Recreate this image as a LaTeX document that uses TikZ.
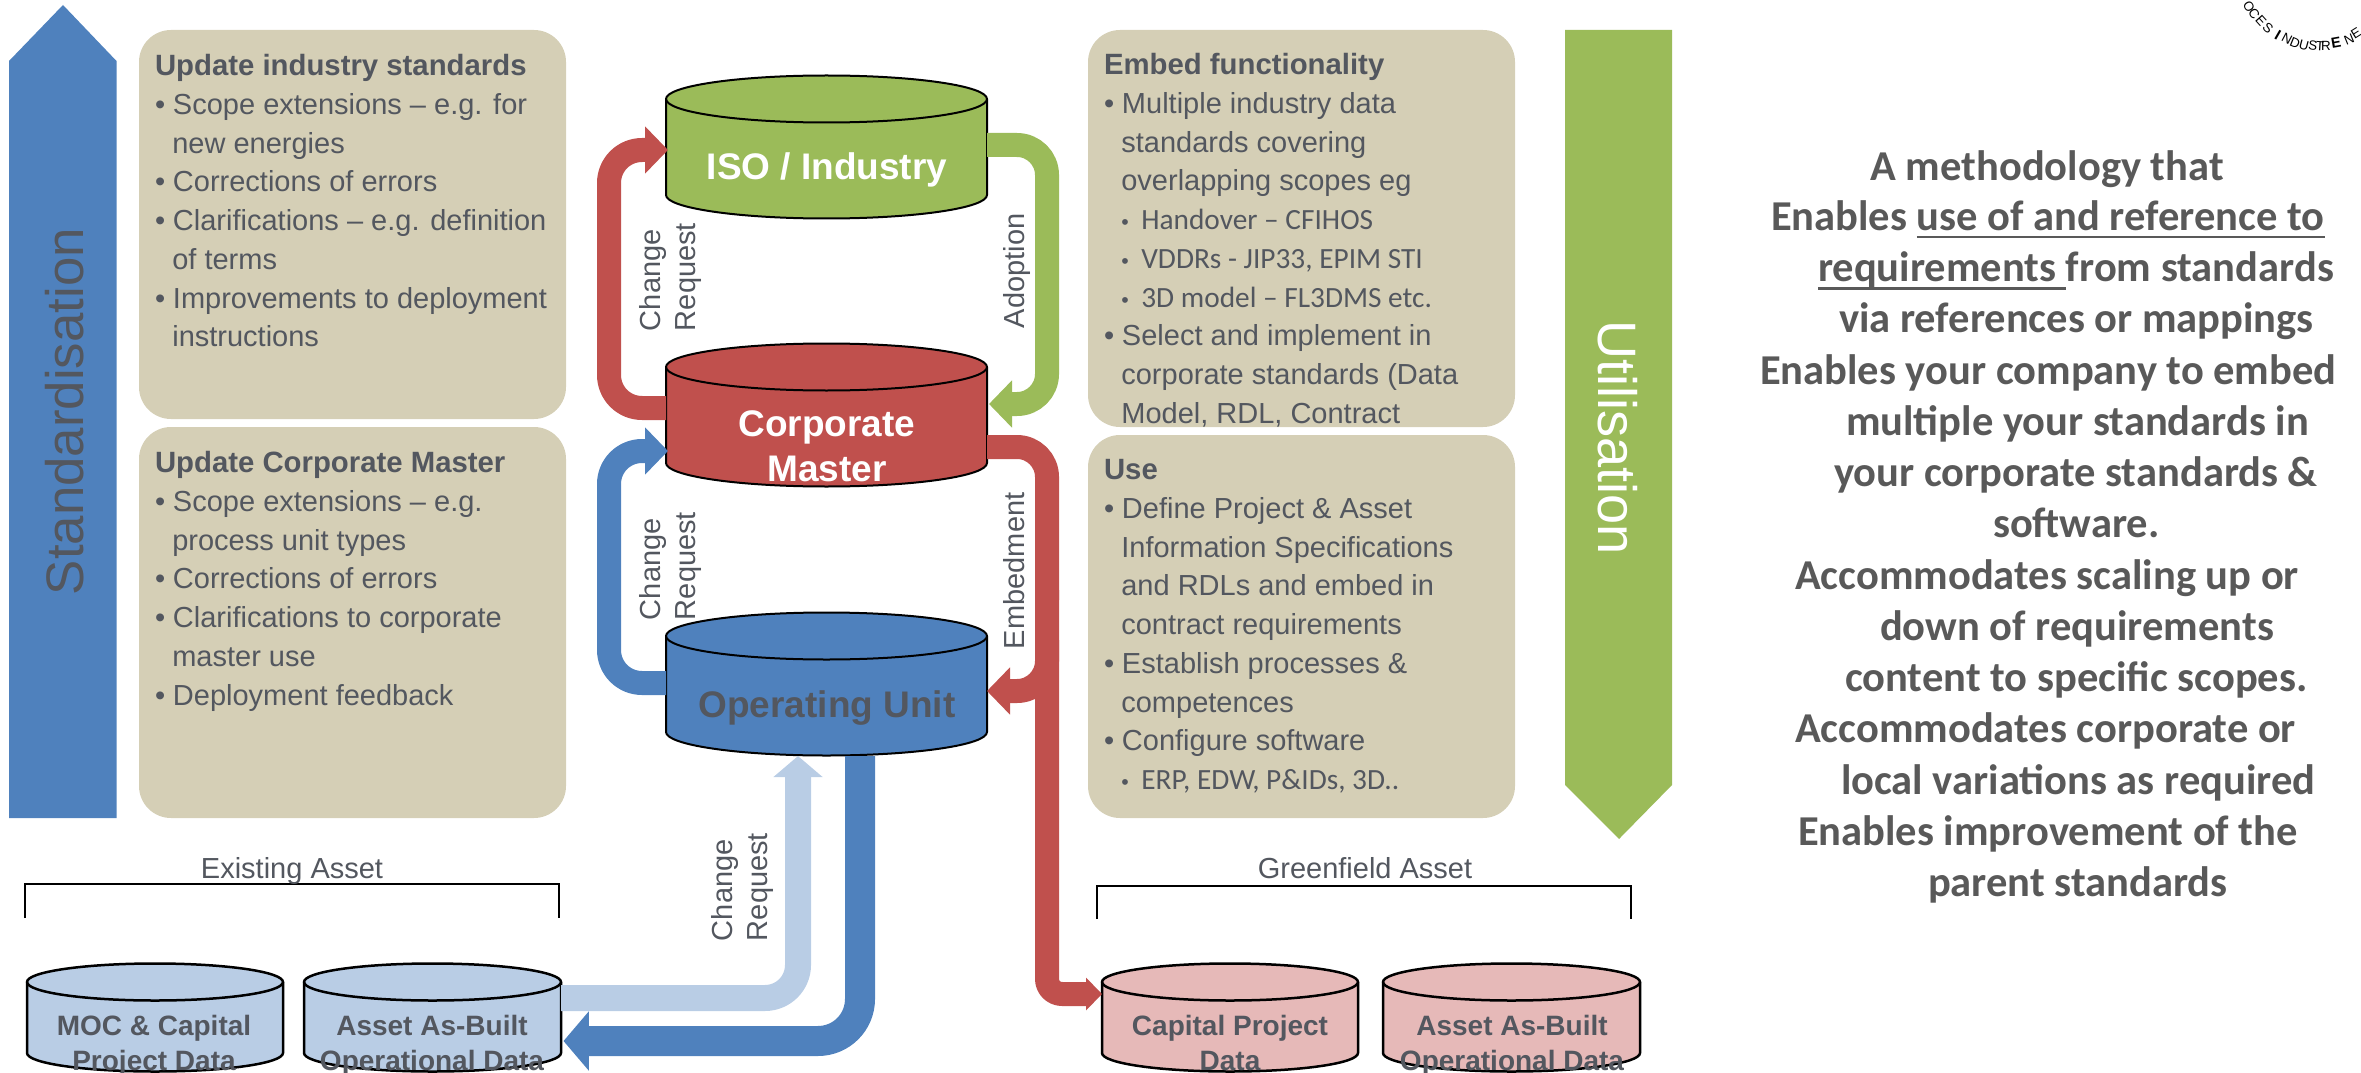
\documentclass[tikz,border=0pt]{standalone}
\usepackage{fontspec}
\setmainfont{Liberation Sans}
\newfontfamily\carl{Carlito}
\usetikzlibrary{arrows.meta}
\definecolor{cblue}{HTML}{4F81BD}
\definecolor{cred}{HTML}{C0504D}
\definecolor{cgreen}{HTML}{9BBB59}
\definecolor{clblue}{HTML}{B9CDE5}
\definecolor{clred}{HTML}{E6B9B8}
\definecolor{cbox}{HTML}{D5CFB6}
\definecolor{ctxt}{HTML}{53575F}
\definecolor{crtxt}{HTML}{595959}
\newcommand{\fsbody}{\fontsize{21.75}{29.03}\selectfont}
\newcommand{\fssub}{\carl\fontsize{22}{29.03}\selectfont}
\newcommand{\firststrut}{\rule{0pt}{20pt}}
\newcommand{\Hd}[1]{\firststrut\fontsize{22}{29.03}\selectfont\textbf{#1}}
\newcommand{\Bu}[1]{\makebox[13.5pt][l]{•}#1}
\newcommand{\Co}[1]{\hspace*{13pt}#1}
\newcommand{\Su}[1]{\hspace*{13pt}\makebox[15pt][l]{\fontsize{16}{29.03}\selectfont •}{\fssub #1}}
\newcommand{\myul}[1]{\setbox0=\hbox{#1}\rlap{\rule[-6pt]{\wd0}{1.6pt}}\box0 }
\newcommand{\drum}[8]{% name, cx, rx, ymid, yend, ry, fill, line width (px)
  \pgfmathsetmacro\drumrx{#3*0.75}
  \pgfmathsetmacro\drumry{#6*0.75}
  \pgfmathsetmacro\drumh{(#5-#4)*0.75}
  \pgfmathsetmacro\drumw{#3*1.5}
  \pgfmathsetmacro\drumlw{#8*0.75}
  \filldraw[fill=#7,draw=black,line width=\drumlw pt,line join=round]
    ({#2-#3},#4) arc[start angle=180,end angle=0,x radius=\drumrx pt,y radius=\drumry pt]
    -- ({#2+#3},#5) arc[start angle=0,end angle=-180,x radius=\drumrx pt,y radius=\drumry pt] -- cycle;
  \draw[line width=\drumlw pt]
    ({#2-#3},#4) arc[start angle=180,end angle=360,x radius=\drumrx pt,y radius=\drumry pt];
  \node[inner sep=0pt,outer sep=0pt,minimum width=\drumw pt,minimum height=\drumh pt] (#1) at (#2,{(#4+#5)/2}) {};
}
\tikzset{
  x=0.75pt,y=-0.75pt,
  band/.style={draw=#1,line width=18pt,line join=round,line cap=butt},
  tipA/.style={-{Triangle[length=17.25pt,width=34.5pt]}},
  tipLB/.style={-{Triangle[length=15.75pt,width=36pt]}},
  tipDB/.style={-{Triangle[length=19pt,width=43.5pt]}},
  tipC/.style={-{Triangle[length=12pt,width=24pt]}},
  panel/.style={fill=cbox,draw=none,rounded corners=24pt},
  bodytext/.style={inner sep=0pt,outer sep=0pt,anchor=north west,align=left,text=ctxt,font=\fsbody},
  rotlab/.style={inner sep=0pt,outer sep=0pt,anchor=north west,align=left,rotate=90,text=ctxt,
     font=\fontsize{21.75}{25.9}\selectfont},
  single/.style={inner sep=0pt,outer sep=0pt,anchor=base west,rotate=90,text=ctxt,font=\fsbody},
  druml/.style={inner sep=0pt,outer sep=0pt,anchor=north,align=center,text=ctxt,
     font=\fontsize{21}{26.25}\selectfont\bfseries},
  bigl/.style={inner sep=0pt,outer sep=0pt,anchor=base,align=center,text=#1,
     font=\fontsize{27.75}{33.4}\selectfont\bfseries},
  rline/.style={inner sep=0pt,outer sep=0pt,anchor=base west,text=crtxt,
     font=\carl\fontsize{31.9}{38}\selectfont\bfseries},
  ringl/.style={inner sep=0pt,outer sep=0pt,anchor=center,text=black,font=\fontsize{10}{12}\selectfont},
  asset/.style={inner sep=0pt,outer sep=0pt,anchor=base,text=ctxt,font=\fsbody},
  brk/.style={draw=black,line width=1.1pt},
}
\begin{document}
\begin{tikzpicture}
\useasboundingbox (0,0) rectangle (2361,1073);
% big arrows
\fill[cblue] (9,61) -- (63,5) -- (116.5,61) -- (116.5,818) -- (9,818) -- cycle;
\fill[cgreen] (1565,30) -- (1672,30) -- (1672,785) -- (1619,839) -- (1565,785) -- cycle;
\node[inner sep=0pt,outer sep=0pt,anchor=base west,rotate=90,text=ctxt,font=\fontsize{39.6}{44}\selectfont] (std) at (83,595) {Standardisation};
\node[inner sep=0pt,outer sep=0pt,anchor=base west,rotate=-90,text=white,font=\fontsize{40.6}{46}\selectfont] (uti) at (1598,320) {Utilisation};
% panels
\fill[panel] (139,30) rectangle (566,419);
\fill[panel] (139,427) rectangle (566,818);
\fill[panel] (1088,30) rectangle (1515,427);
\fill[panel] (1088,435) rectangle (1515,818);
\node[bodytext] (t1) at (155,49.1) {\Hd{Update industry standards}\\
 \Bu{Scope extensions – e.g. for}\\ \Co{new energies}\\ \Bu{Corrections of errors}\\
 \Bu{Clarifications – e.g. definition}\\ \Co{of terms}\\ \Bu{Improvements to deployment}\\ \Co{instructions}};
\node[bodytext] (t2) at (155,446.1) {\Hd{Update Corporate Master}\\
 \Bu{Scope extensions – e.g.}\\ \Co{process unit types}\\ \Bu{Corrections of errors}\\
 \Bu{Clarifications to corporate}\\ \Co{master use}\\ \Bu{Deployment feedback}};
\node[bodytext] (t3) at (1104,48.1) {\Hd{Embed functionality}\\
 \Bu{Multiple industry data}\\ \Co{standards covering}\\ \Co{overlapping scopes eg}\\
 \Su{Handover – CFIHOS}\\ \Su{VDDRs - JIP33, EPIM STI}\\ \Su{3D model – FL3DMS etc.}\\
 \Bu{Select and implement in}\\ \Co{corporate standards (Data}\\ \Co{Model, RDL, Contract}};
\node[bodytext] (t4) at (1104,453.1) {\Hd{Use}\\
 \Bu{Define Project \& Asset}\\ \Co{Information Specifications}\\ \Co{and RDLs and embed in}\\ \Co{contract requirements}\\
 \Bu{Establish processes \&}\\ \Co{competences}\\ \Bu{Configure software}\\ \Su{ERP, EDW, P\&IDs, 3D..}};
% drums
\drum{iso}{826.5}{160.5}{99}{195}{23.5}{cgreen}{2}
\drum{corp}{826.5}{160.5}{367}{463}{23.5}{cred}{2}
\drum{op}{826.5}{160.5}{636}{732}{23.5}{cblue}{2}
\drum{moc}{155}{128}{982}{1053}{18.5}{clblue}{2.5}
\drum{asb}{432.5}{128.5}{982}{1053}{18.5}{clblue}{2.5}
\drum{cap}{1230}{128}{982}{1053}{18.5}{clred}{2.5}
\drum{asg}{1511.5}{128.5}{982}{1053}{18.5}{clred}{2.5}
% connectors
\draw[band=cred,tipA,rounded corners=24.75pt] (corp.west |- 0,408) -- (609,408) -- (609,150) -- (668,150);
\draw[band=cgreen,tipA,rounded corners=22.5pt] (iso.east |- 0,145) -- (1047,145) -- (1047,404) -- (989,404);
\draw[band=cblue,tipA,rounded corners=24.75pt] (op.west |- 0,683) -- (609,683) -- (609,451) -- (668,451);
\draw[band=cred,rounded corners=22.5pt] (corp.east |- 0,447) -- (1047,447) -- (1047,600);
\draw[band=cred,tipC,rounded corners=11.25pt] (1047,590) -- (1047,994) -- (cap.west |- 0,994);
\draw[band=cred,tipA,rounded corners=22.5pt] (1047,640) -- (1047,691) -- (op.east |- 0,691);
\draw[band=clblue,line width=19.5pt,tipLB,rounded corners=24.75pt] (asb.east |- 0,998) -- (798,998) -- (798,756);
\draw[band=cblue,line width=22.5pt,tipDB,rounded corners=31.5pt] (860,756) -- (860,1041) -- (563.5,1041);
% connector labels
\node[rotlab] (cr1) at (634,331) {\firststrut Change\\Request};
\node[rotlab] (cr2) at (634,620) {\firststrut Change\\Request};
\node[rotlab] (cr3) at (706,941) {\firststrut Change\\Request};
\node[single] (ad) at (1024,328) {Adoption};
\node[single] (em) at (1024,649) {Embedment};
% drum labels
\node[bigl=white] (l1) at (827,179.5) {ISO / Industry};
\node[bigl=white,anchor=north] (l2) at (827,402) {\rule{0pt}{26pt}Corporate\\Master};
\node[bigl=ctxt] (l3) at (827,717) {Operating Unit};
\node[druml] (l4) at (154,1009) {\firststrut MOC \& Capital\\Project Data};
\node[druml] (l5) at (432,1009) {\firststrut Asset As-Built\\Operational Data};
\node[druml] (l6) at (1230,1009) {\firststrut Capital Project\\Data};
\node[druml] (l7) at (1512,1009) {\firststrut Asset As-Built\\Operational Data};
% brackets
\draw[brk] (25,918) |- (559,884) -- (559,918);
\draw[brk] (1097,919) |- (1631,886) -- (1631,919);
\node[asset] (ea) at (292,878.5) {Existing Asset};
\node[asset] (ga) at (1365,878.5) {Greenfield Asset};
% right text
\node[rline] (r1) at (1870.4,180.5) {A methodology that};
\node[rline] (r2) at (1771,230.5) {Enables \myul{use of and reference to}};
\node[rline] (r3) at (1818,281.5) {\myul{requirements\ }from standards};
\node[rline] (r4) at (1839,332.5) {via references or mappings};
\node[rline] (r5) at (1760,384.5) {Enables your company to embed};
\node[rline] (r6) at (1846,435.5) {multiple your standards in};
\node[rline] (r7) at (1834,486.5) {your corporate standards \&};
\node[rline] (r8) at (1993,537.5) {software.};
\node[rline] (r9) at (1795,589.5) {Accommodates scaling up or};
\node[rline] (r10) at (1880,640.5) {down of requirements};
\node[rline] (r11) at (1845,691.5) {content to specific scopes.};
\node[rline] (r12) at (1795,742.5) {Accommodates corporate or};
\node[rline] (r13) at (1841,794.5) {local variations as required};
\node[rline] (r14) at (1798,845.5) {Enables improvement of the};
\node[rline] (r15) at (1928,896.5) {parent standards};
% ring text fragment
\foreach \nm/\px/\py/\ang/\ch in {a/2249/7/-60/O,b/2254/14/-55/C,c/2261/21/-48/E,d/2268/28/-42/S,f/2287/39/-28/N,g/2295/43/-22/D,h/2304/45/-15/U,i/2313/46/-8/S,j/2320/46/-4/T,k/2326/46/0/R,l/2349/39/22/N,m/2356/33/32/E}
  \node[ringl,rotate=\ang] (ring\nm) at (\px,\py) {\ch};
\node[ringl,rotate=-30,font=\fontsize{11}{12}\selectfont\bfseries] (ringe) at (2278,35) {I};
\node[ringl,rotate=10,font=\fontsize{11}{12}\selectfont\bfseries] (ringn) at (2336,43) {E};
\end{tikzpicture}
\end{document}
